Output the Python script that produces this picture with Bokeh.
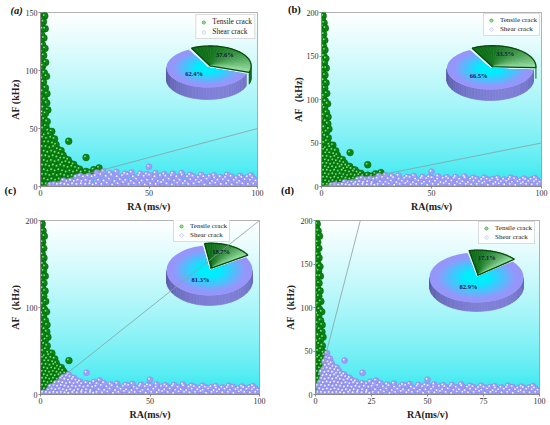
import numpy as np
from bokeh.plotting import figure
from bokeh.models import Range1d, Slope, Legend, LegendItem, Label
from bokeh.layouts import column, row
from bokeh.embed import file_html
from bokeh.resources import INLINE

SERIF = "Liberation Serif"

# ---------------- data ----------------
col_ra = [0.3,0.8,0.4,1.2,0.6,1.8,0.3,1.0,0.5,1.5, 0.2,0.9,1.6,0.4,1.1,2.0,0.6,1.4,0.3,2.2,
          0.9,0.5,1.6,0.2,1.0,2.1,0.6,1.5,0.3,2.4, 1.1,0.5,1.8,2.8,0.8,1.4,0.3,2.3,1.0,3.0,
          0.6,1.9,2.9,0.4,1.3,3.4,2.3,0.8,1.7,3.1, 0.4,2.5,1.2,3.6,5.2]
col_af = [200,196,191,188,184,182,178,175,171,168, 165,161,157,154,150,147,144,142,139,136,
          136,131,128,125,122,119,116,113,110,107, 104,101,98,95,93,90,87,85,82,80,
          77,75,72,70,68,66,63,61,58,56, 54,52,50,48,47.5]
core_ra = [0.5,2.0,4.0, 1.2,3.0,5.0,6.5, 0.3,2.2,4.0,5.8,7.2, 1.0,2.8,4.6,6.3,8.0,9.5,
           0.2,2.0,3.6,5.4,7.0,8.8,10.4, 1.0,2.7,4.4,6.1,7.8,9.6,11.3,12.8,
           0.3,2.0,3.6,5.3,7.0,8.7,10.4,12.0,13.7,15.3,
           1.2,2.9,4.5,6.2,7.9,9.6,11.3,13.0,14.7,16.4,18.0,
           0.4,2.0,3.7,5.4,7.0,8.7,10.4,12.1,13.8,15.5,17.2,19.0,21.0,23.0,
           1.2,2.9,4.6,6.3,8.0,9.7,11.4,13.1,14.8,16.5,18.3,20.0,22.0,24.0,
           0.4,2.1,3.8,5.5,7.2,8.9,10.6,12.3,14.0,15.8,17.5,19.3,21.2,23.2,
           1.2,2.9,4.6,6.3,8.0,9.7,11.4,13.1,15.0,17.0,19.0,21.0,23.0,24.5]
core_af = [45,44,45, 42,41,42,41, 38,38,38,37,36, 34,34,33,34,32,31,
           30,30,29,30,29,28,27, 26,26,25,26,25,24,24,23,
           22,22,21,22,21,22,20,21,20,19,
           18,18,17,18,17,18,17,16,17,16,15,
           14,14,13,14,13,14,13,12,13,12,13,12,13,12,
           10,10,9,10,9,10,9,8,9,8,9,8,9,8,
           6,6,5,6,5,6,5,4,5,4,5,4,5,4,
           2,2,1.5,2,1.5,2,1.5,1,2,1.5,2,1.5,2,1]
out_ra = [13, 21, 27, 24.5, 50]
out_af = [39, 25, 16, 14.5, 17]
band_ra = [26,28.5,31,33.5,36,38.5,41,43.5,46,48.5,51,53.5,56,58.5,61,63.5,66,68.5,71,73.5,
           76,78.5,81,83.5,86,88.5,91,93.5,96,98.5,
           27,29.5,32,34.5,37,39.5,42,44.5,47,49.5,52,54.5,57,59.5,62,64.5,67,69.5,72,74.5,
           77,79.5,82,84.5,87,89.5,92,94.5,97,99.5,
           25.5,28,30.5,33,35.5,38,40.5,43,45.5,48,50.5,53,55.5,58,60.5,63,65.5,68,70.5,73,
           75.5,78,80.5,83,85.5,88,90.5,93,95.5,98,
           26,29,32,35,39,42,46,49,53,57,61,65,69,74,80,86,92,97]
band_af = [2,1.5,2.5,1,2,3,1.5,2,2.5,1,2,1.5,3,2,1,2.5,2,1.5,2,3,
           1,2,2.5,1.5,2,1,2.5,2,1.5,2,
           5,4.5,6,4,5.5,5,4,6,4.5,5,5.5,4,5,6,4.5,5,4,5.5,5,4.5,
           6,4,5,5.5,4.5,5,4,5.5,5,4.5,
           9,10,8.5,9.5,8,9,10,8,9,8.5,9.5,8,9,8.5,9,8,9.5,8,8.5,7.5,
           8,8.5,7,8,7.5,8.5,7,7.5,8,7,
           12,13,11.5,12.5,11,12,11,10.5,11.5,10.5,11,11.5,10,10,9.5,10,9,9.5]

panel_tags = ["(a)", "(b)", "(c)", "(d)"]
af_ra_ratio = [0.5, 0.5, 2, 10]
y_max = [150, 200, 200, 200]
y_ticks = [[0, 50, 100, 150], [0, 50, 100, 150, 200], [0, 100, 200], [0, 50, 100, 150, 200]]
x_ticks = [[0, 50, 100], [0, 50, 100], [0, 50, 100], [0, 25, 50, 75, 100]]
tensile_pct = [37.6, 33.5, 18.7, 17.1]
shear_pct = [62.4, 66.5, 81.3, 82.9]
y_labels = ["AF (kHz)", "AF\uff08kHz)", "AF\uff08kHz)", "AF\uff08kHz)"]
x_labels = ["RA (ms/v)", "RA(ms/v)", "RA(ms/v)", "RA(ms/v)"]
series_names = ["Tensile crack", "Shear crack"]

# ---------------- styles ----------------
pie_cx = [167, 171, 169, 161]
pie_cy_top = [55, 56, 50, 57]
pie_rx = [41, 44, 43, 47]
pie_ry = [20, 21, 25, 25]
pie_depth = [12, 11, 10, 9]
pie_start = [117, 118, 99, 101]

ra_all = np.array(col_ra + core_ra + out_ra + band_ra, dtype=float)
af_all = np.array(col_af + core_af + out_af + band_af, dtype=float)


def rgb(c):
    return "#%02x%02x%02x" % tuple(int(round(max(0, min(255, v)))) for v in c)


def mix(a, b, t):
    return tuple(a[k] + (b[k] - a[k]) * t for k in range(3))


def front_intervals(a, b):
    res = []
    for sh in (-360, 0, 360):
        lo = max(a, 180 + sh)
        hi = min(b, 360 + sh)
        if hi > lo:
            res.append((lo, hi))
    return res


def draw_pie(p, i, fh):
    cx = pie_cx[i]; cy = fh - pie_cy_top[i]
    rx = pie_rx[i]; ry = pie_ry[i]; dp = pie_depth[i]
    t0 = pie_start[i]
    t1 = t0 - tensile_pct[i] * 3.6
    mid = np.radians((t0 + t1) / 2)
    ox = 0.1 * rx * np.cos(mid); oy = 0.1 * ry * np.sin(mid)
    kw = dict(x_range_name="px", y_range_name="px")

    def side(cxx, cyy, a, b, dark, light):
        xs, ys, cs = [], [], []
        for lo, hi in front_intervals(a, b):
            n = max(2, int((hi - lo) / 4) + 1)
            ang = np.linspace(lo, hi, n)
            for j in range(n - 1):
                ta, tb = np.radians(ang[j]), np.radians(ang[j + 1])
                xa, xb = cxx + rx * np.cos(ta), cxx + rx * np.cos(tb)
                ya, yb = cyy + ry * np.sin(ta), cyy + ry * np.sin(tb)
                xs.append([xa, xb, xb, xa]); ys.append([ya, yb, yb - dp, ya - dp])
                sh = 0.5 + 0.5 * np.cos(np.radians((ang[j] + ang[j + 1]) / 2 - 285))
                cs.append(rgb(mix(dark, light, sh)))
        if xs:
            p.patches(xs, ys, fill_color=cs, line_color=cs, line_width=0.6, **kw)

    side(cx, cy, t0, t1 + 360, (58, 58, 130), (128, 128, 215))
    side(cx + ox, cy + oy, t1, t0, (5, 65, 12), (25, 115, 35))

    xs, ys, cs = [], [], []
    ang = np.radians(np.linspace(t0, t1 + 360, 90))
    for k in range(16):
        s = 1.0 - k * 0.06
        xs.append([cx] + list(cx + s * rx * np.cos(ang)))
        ys.append([cy] + list(cy + s * ry * np.sin(ang)))
        f = min(1.0, max(0.0, (0.88 - s) / 0.6))
        cs.append(rgb(mix((150, 150, 250), (0, 236, 255), f)))
    p.patches(xs, ys, fill_color=cs, line_color=None, **kw)

    gx, gy = cx + ox, cy + oy
    xs, ys, cs = [], [], []
    ang = np.linspace(t0, t1, 25)
    for j in range(24):
        ta, tb = np.radians(ang[j]), np.radians(ang[j + 1])
        xs.append([gx, gx + rx * np.cos(ta), gx + rx * np.cos(tb)])
        ys.append([gy, gy + ry * np.sin(ta), gy + ry * np.sin(tb)])
        cs.append(rgb(mix((12, 110, 22), (150, 222, 160), (j / 23) ** 1.8)))
    p.patches(xs, ys, fill_color=cs, line_color=cs, line_width=0.6, **kw)
    a2 = np.radians(np.linspace(t0, t1, 60))
    p.line([gx] + list(gx + rx * np.cos(a2)) + [gx], [gy] + list(gy + ry * np.sin(a2)) + [gy],
           line_color="#0a4a0a", line_width=1.3, **kw)

    bm = np.radians((t0 + t1 + 360) / 2)
    lx = [gx + 0.55 * rx * np.cos(mid), cx + 0.5 * rx * np.cos(bm)]
    ly = [gy + 0.75 * ry * np.sin(mid), cy + 0.4 * ry * np.sin(bm)]
    txt = ["%.1f%%" % tensile_pct[i], "%.1f%%" % shear_pct[i]]
    for x, y, t in zip(lx, ly, txt):
        p.add_layout(Label(x=x, y=y, x_range_name="px", y_range_name="px", text=t,
                           text_font=SERIF, text_font_size="6.5px", text_font_style="bold",
                           text_color="#1a1a40", text_align="center", text_baseline="middle"))


def make_panel(i, width, height, bl, br, bt, bb, legend_loc, legend_font, legend_margin):
    ymax = y_max[i]
    p = figure(width=width, height=height, x_range=Range1d(0, 100), y_range=Range1d(0, ymax),
               output_backend="svg", toolbar_location=None,
               min_border_left=bl, min_border_right=br, min_border_top=bt, min_border_bottom=bb)
    fw = width - bl - br
    fh = height - bt - bb
    p.extra_x_ranges = {"px": Range1d(0, fw)}
    p.extra_y_ranges = {"px": Range1d(0, fh)}
    p.xgrid.visible = False
    p.ygrid.visible = False
    p.outline_line_color = "#9a9a9a"
    p.background_fill_color = "white"
    p.border_fill_color = "white"

    n = 120
    img = np.empty((n, 2), dtype=np.uint32)
    v = img.view(dtype=np.uint8).reshape((n, 2, 4))
    for j in range(n):
        t = (j / (n - 1)) ** 0.7
        c = mix((40, 232, 240), (255, 255, 255), t)
        v[j, :, 0] = int(c[0]); v[j, :, 1] = int(c[1]); v[j, :, 2] = int(c[2]); v[j, :, 3] = 255
    p.image_rgba(image=[img], x=0, y=0, dw=100, dh=ymax)

    sx = fw / 100.0
    sy = fh / ymax
    k = af_ra_ratio[i]
    tm = af_all > k * ra_all
    sm = ~tm
    rt = p.scatter(ra_all[tm], af_all[tm], size=6.8, fill_color="#0b8513", line_color="#04560a", line_width=0.4)
    ht = p.scatter(ra_all[tm] - 1.1 / sx, af_all[tm] + 1.1 / sy, size=1.8, fill_color="#7ee07e", line_color=None)
    rs = p.scatter(ra_all[sm], af_all[sm], size=6.0, fill_color="#9e9ef8", line_color="#8282dc", line_width=0.4)
    hs = p.scatter(ra_all[sm] - 1.0 / sx, af_all[sm] + 1.0 / sy, size=1.8, fill_color="#f4f4ff", line_color=None)

    p.add_layout(Slope(gradient=k, y_intercept=0, line_color="#8aa0a0", line_width=0.8))

    draw_pie(p, i, fh)

    leg = Legend(items=[LegendItem(label=series_names[0], renderers=[rt, ht]),
                        LegendItem(label=series_names[1], renderers=[rs, hs])],
                 location=legend_loc, margin=legend_margin, padding=2, spacing=1,
                 glyph_height=8, glyph_width=10, label_height=8, label_standoff=4,
                 label_text_font=SERIF, label_text_font_size=legend_font,
                 label_text_color="#222222", border_line_color="#b8b8b8",
                 background_fill_color="white", background_fill_alpha=0.85)
    p.add_layout(leg)

    p.xaxis.ticker = x_ticks[i]
    p.yaxis.ticker = y_ticks[i]
    p.xaxis.axis_label = x_labels[i]
    p.yaxis.axis_label = y_labels[i]
    for ax in (p.xaxis[0], p.yaxis[0]):
        ax.major_label_text_font = SERIF
        ax.major_label_text_font_size = "8px"
        ax.major_label_text_color = "#333333"
        ax.axis_line_color = "#888888"
        ax.major_tick_line_color = "#888888"
        ax.major_tick_out = 2
        ax.major_tick_in = 0
        ax.minor_tick_out = 0
        ax.minor_tick_in = 0
        ax.major_label_standoff = 1
        ax.axis_label_text_font = SERIF
        ax.axis_label_text_font_style = "bold"
        ax.axis_label_text_font_size = "10px"
        ax.axis_label_text_color = "#222222"
        ax.axis_label_standoff = 2
    return p, fw, fh


pa, fwa, fha = make_panel(0, 276, 214, 40, 19, 12, 28, "top_right", "7.5px", 2)
pb, fwb, fhb = make_panel(1, 274, 214, 42, 9, 12, 28, "top_right", "7px", 1)
pc, fwc, fhc = make_panel(2, 276, 208, 40, 17, 6, 28, (133, 152), "7px", 0)
pd, fwd, fhd = make_panel(3, 274, 208, 39, 11, 6, 28, (163, 150), "7px", 0)
pb.yaxis[0].axis_label_standoff = 0


def tag(p, text, px_x, px_y, fw, fh, ymax, style, place):
    # data-unit label kept in a side panel, so that it is not clipped to the frame
    p.add_layout(Label(x=px_x * 100.0 / fw, y=px_y * ymax / fh, text=text, text_font=SERIF,
                       text_font_size="10.5px", text_font_style=style, text_color="#111111",
                       text_baseline="middle", text_align="left"), place)


tag(pa, panel_tags[0], -30, fha + 2, fwa, fha, y_max[0], "bold italic", "right")
tag(pb, panel_tags[1], -34, fhb + 3, fwb, fhb, y_max[1], "bold", "left")
tag(pa, panel_tags[2], -36, -4, fwa, fha, y_max[0], "bold", "above")
tag(pb, panel_tags[3], -41, -4, fwb, fhb, y_max[1], "bold", "above")

layout = column(row(pa, pb, spacing=0), row(pc, pd, spacing=0), spacing=0)
open("out.html", "w").write(file_html(layout, INLINE))
